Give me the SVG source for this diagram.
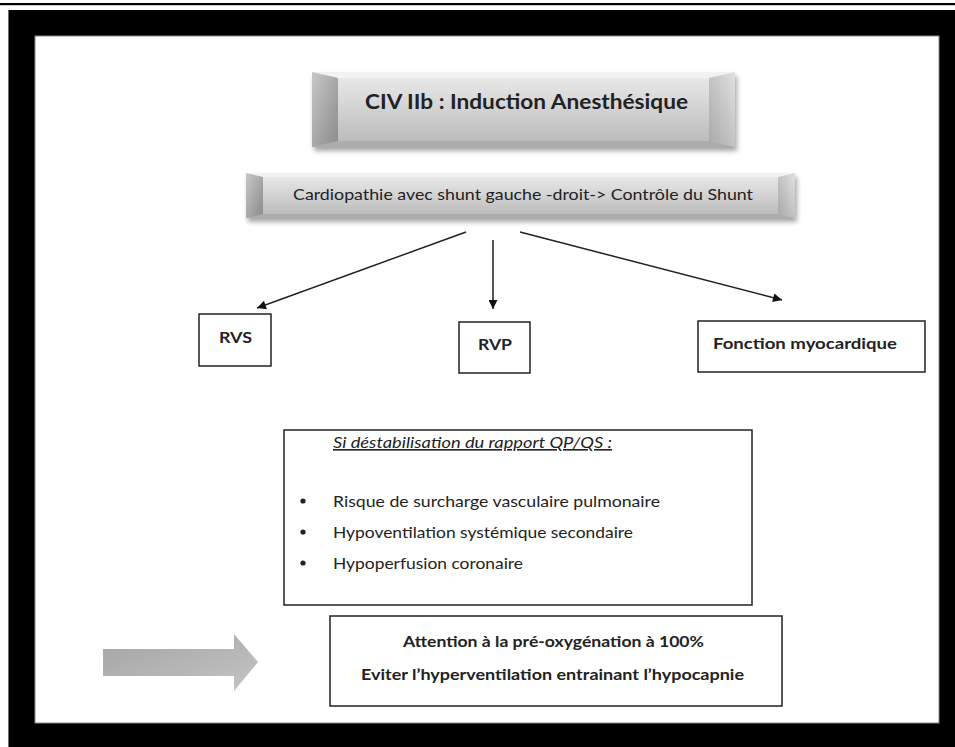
<svg xmlns="http://www.w3.org/2000/svg" width="955" height="747" viewBox="0 0 955 747">
<style>
  .t { font-family: Lato, "Open Sans", "Liberation Sans", sans-serif; fill: #222; }
  .b { font-weight: bold; }
  .box { fill: #fff; stroke: #222; stroke-width: 1.5; }
  .conn { stroke: #222; stroke-width: 1.5; fill: none; marker-end: url(#ah); }
</style>
<defs>
  <marker id="ah" viewBox="0 0 10 10" refX="10" refY="5" markerWidth="11" markerHeight="9" markerUnits="userSpaceOnUse" orient="auto">
    <path d="M0,0 L10,5 L0,10 z" fill="#111"/>
  </marker>
  <linearGradient id="face" x1="0" y1="0" x2="0" y2="1">
    <stop offset="0" stop-color="#ececec"/>
    <stop offset="1" stop-color="#b8b8b8"/>
  </linearGradient>
  <linearGradient id="leftBev" x1="0" y1="0" x2="1" y2="1">
    <stop offset="0" stop-color="#c8c8c8"/>
    <stop offset="1" stop-color="#8a8a8a"/>
  </linearGradient>
  <linearGradient id="rightBev" x1="1" y1="0" x2="0" y2="1">
    <stop offset="0" stop-color="#e0e0e0"/>
    <stop offset="1" stop-color="#a8a8a8"/>
  </linearGradient>
  <linearGradient id="arrowG" x1="0" y1="0" x2="1" y2="1">
    <stop offset="0" stop-color="#a4a4a4"/>
    <stop offset="1" stop-color="#c4c4c4"/>
  </linearGradient>
  <filter id="sh" x="-5%" y="-20%" width="112%" height="150%">
    <feDropShadow dx="2" dy="4" stdDeviation="2.5" flood-color="#000" flood-opacity="0.35"/>
  </filter>
</defs>

<rect x="0" y="0" width="955" height="747" fill="#fff"/>
<rect x="0" y="3" width="955" height="2.2" fill="#000"/>
<rect x="8" y="10" width="947" height="737" fill="#000"/>
<rect x="8" y="10" width="0.8" height="737" fill="#888"/>
<rect x="35" y="36" width="904" height="687" fill="#fff" stroke="#888" stroke-width="1"/>

<g id="title">
  <g filter="url(#sh)">
    <rect x="312" y="72" width="423" height="75" fill="url(#face)"/>
  </g>
  <polygon points="312,72 735,72 709,78 338,78" fill="#f2f2f2"/>
  <polygon points="312,147 735,147 709,141 338,141" fill="#acacac"/>
  <polygon points="312,72 338,78 338,141 312,147" fill="url(#leftBev)"/>
  <polygon points="735,72 709,78 709,141 735,147" fill="url(#rightBev)"/>
  <text class="t b" x="365" y="109" font-size="20" textLength="323" lengthAdjust="spacingAndGlyphs">CIV IIb : Induction Anesthésique</text>
</g>

<g id="shunt">
  <g filter="url(#sh)">
    <rect x="246" y="173" width="549" height="45" fill="url(#face)"/>
  </g>
  <polygon points="246,173 795,173 778,177 263,177" fill="#f2f2f2"/>
  <polygon points="246,218 795,218 778,214 263,214" fill="#acacac"/>
  <polygon points="246,173 263,177 263,214 246,218" fill="url(#leftBev)"/>
  <polygon points="795,173 778,177 778,214 795,218" fill="url(#rightBev)"/>
  <text class="t" x="293" y="200" font-size="16" textLength="460" lengthAdjust="spacingAndGlyphs">Cardiopathie avec shunt gauche -droit-&gt; Contrôle du Shunt</text>
</g>

<g id="connectors">
  <line class="conn" x1="466" y1="232" x2="257" y2="308"/>
  <line class="conn" x1="493" y1="240" x2="493" y2="309"/>
  <line class="conn" x1="520" y1="232" x2="782" y2="300"/>
</g>

<g id="rvs">
  <rect class="box" x="199" y="314" width="72" height="52"/>
  <text class="t b" x="219" y="343" font-size="15" textLength="33" lengthAdjust="spacingAndGlyphs">RVS</text>
</g>

<g id="rvp">
  <rect class="box" x="459" y="322" width="71" height="51"/>
  <text class="t b" x="478" y="350" font-size="15" textLength="34" lengthAdjust="spacingAndGlyphs">RVP</text>
</g>

<g id="fonction">
  <rect class="box" x="698" y="321" width="227" height="51"/>
  <text class="t b" x="713" y="349" font-size="15" textLength="184" lengthAdjust="spacingAndGlyphs">Fonction myocardique</text>
</g>

<g id="destab">
  <rect class="box" x="284" y="430" width="468" height="175"/>
  <text class="t" x="333" y="448" font-size="16" font-style="italic" text-decoration="underline" textLength="279" lengthAdjust="spacingAndGlyphs">Si déstabilisation du rapport QP/QS :</text>
  <circle cx="303" cy="501" r="2.6" fill="#222"/>
  <circle cx="303" cy="532" r="2.6" fill="#222"/>
  <circle cx="303" cy="563" r="2.6" fill="#222"/>
  <text class="t" x="333" y="507" font-size="16" textLength="327" lengthAdjust="spacingAndGlyphs">Risque de surcharge vasculaire pulmonaire</text>
  <text class="t" x="333" y="538" font-size="16" textLength="300" lengthAdjust="spacingAndGlyphs">Hypoventilation systémique secondaire</text>
  <text class="t" x="333" y="569" font-size="16" textLength="190" lengthAdjust="spacingAndGlyphs">Hypoperfusion coronaire</text>
</g>

<g id="bigarrow">
  <polygon points="103,649 234,649 234,634 258,662 234,691 234,676 103,676" fill="url(#arrowG)"/>
</g>

<g id="attention">
  <rect class="box" x="330" y="616" width="452" height="90"/>
  <text class="t b" x="403" y="647" font-size="16" textLength="301" lengthAdjust="spacingAndGlyphs">Attention à la pré-oxygénation à 100%</text>
  <text class="t b" x="361" y="680" font-size="16" textLength="383" lengthAdjust="spacingAndGlyphs">Eviter l’hyperventilation entrainant l’hypocapnie</text>
</g>
</svg>
